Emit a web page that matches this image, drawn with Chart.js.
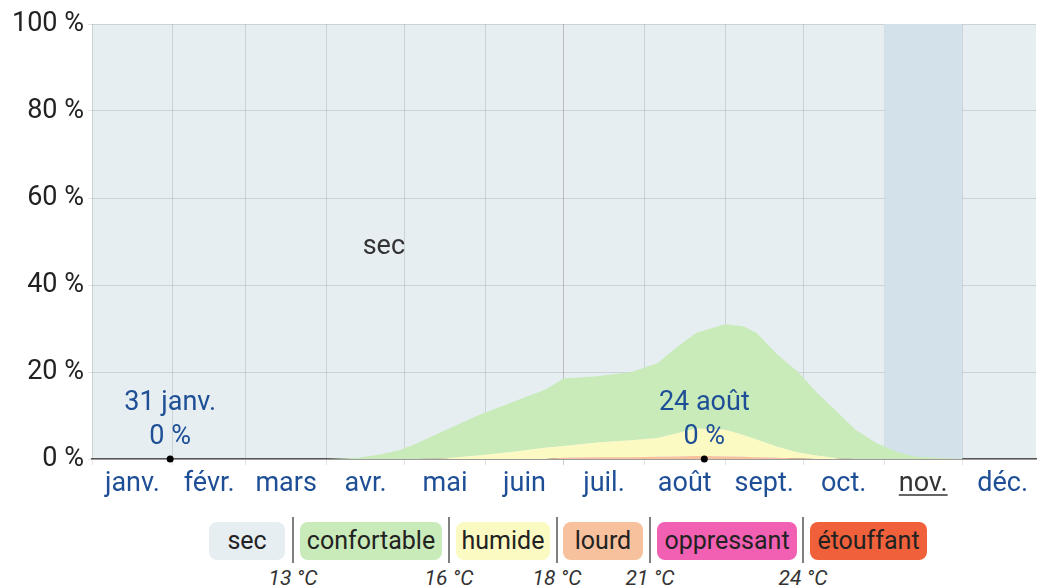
<!DOCTYPE html>
<html lang="fr">
<head>
<meta charset="utf-8">
<script src="https://cdn.jsdelivr.net/npm/chart.js@4.4.1/dist/chart.umd.min.js"></script>
<style>
  body { margin: 0; background: #fff; font-family: Roboto, sans-serif; }
  #wrap { position: relative; width: 1040px; height: 588px; overflow: hidden; }
  #chart { position: absolute; left: 0; top: 0; }
  .box { position: absolute; top: 522px; height: 38px; line-height: 38px; border-radius: 8px;
         text-align: center; font-size: 25px; color: #222; }
  .sep { position: absolute; top: 517px; height: 46px; width: 2px; background: #808080; }
  .temp { position: absolute; top: 565px; width: 80px; margin-left: -40px; line-height: 26px;
          text-align: center; font-size: 21px; font-style: italic; color: #333; }
</style>
</head>
<body>
<div id="wrap">
  <canvas id="chart" width="1040" height="505"></canvas>
  <div id="legend"></div>
</div>
<script>
// jour de l'année (0 = 1er janv.)
const days = [0, 31, 59, 90, 102, 110, 118, 125, 136, 148, 161, 174, 181, 194, 207, 217,
              225, 232, 243, 250, 255, 263, 271, 278, 286, 293, 301, 309, 316, 334, 365];

// % de jours par niveau de confort (le reste = sec)
const etouffant   = [0, 0, 0, 0, 0, 0, 0, 0, 0, 0, 0, 0, 0, 0, 0, 0,
                     0, 0, 0, 0, 0, 0, 0, 0, 0, 0, 0, 0, 0, 0, 0];
const oppressant  = [0, 0, 0, 0, 0, 0, 0, 0, 0, 0, 0, 0, 0, 0, 0, 0,
                     0, 0, 0, 0, 0, 0, 0, 0, 0, 0, 0, 0, 0, 0, 0];
const lourd       = [0, 0, 0, 0, 0, 0, 0, 0, 0, 0, 0, 0, 0.3, 0.4, 0.4, 0.5,
                     0.6, 0.7, 0.6, 0.5, 0.4, 0.3, 0.1, 0, 0, 0, 0, 0, 0, 0, 0];
const humide      = [0, 0, 0, 0, 0, 0, 0, 0, 0.2, 0.8, 1.6, 2.6, 2.7, 3.4, 3.9, 4.3,
                     5.4, 6.3, 6.1, 5.0, 4.1, 2.5, 1.4, 0.8, 0.2, 0, 0, 0, 0, 0, 0];
const confortable = [0, 0, 0, 0, 0.3, 1, 2, 3.7, 6.5, 9.2, 11.4, 13.4, 15.5, 15.2, 15.7, 17.2,
                     20, 22, 24.3, 25, 24.5, 21.2, 18.5, 14.6, 10.6, 6.7, 3.7, 1.6, 0.5, 0, 0];

const monthStarts = [0, 31, 59, 90, 120, 151, 181, 212, 243, 273, 304, 334];
const monthMids   = [15.5, 45, 74.5, 105, 135.5, 166, 196.5, 227.5, 258, 288.5, 319, 349.5];
const monthLabels = ['janv.', 'févr.', 'mars', 'avr.', 'mai', 'juin', 'juil.', 'août', 'sept.', 'oct.', 'nov.', 'déc.'];
const yTicks = [0, 20, 40, 60, 80, 100];

const markDays   = [30, 235];
const markDates  = ['31 janv.', '24 août'];
const markValues = [0, 0];

const legendNames  = ['sec', 'confortable', 'humide', 'lourd', 'oppressant', 'étouffant'];
const legendColors = ['#e6eef2', '#c9eab9', '#fcfac3', '#f7c19d', '#f260b3', '#f0603b'];
const tempLabels   = ['13 °C', '16 °C', '18 °C', '21 °C', '24 °C'];

const SEC_BG = '#e6eef1';
const NOV_BG = '#d3e1ea';
const BLUE = '#1e4f96';

// légende en HTML
const boxX = [[209, 285], [300, 442], [456, 550], [563, 643], [657, 797], [810, 927]];
const sepX = [293, 449, 557, 650, 803];
const legend = document.getElementById('legend');
legendNames.forEach((name, i) => {
  const d = document.createElement('div');
  d.className = 'box';
  d.style.left = boxX[i][0] + 'px';
  d.style.width = (boxX[i][1] - boxX[i][0]) + 'px';
  d.style.background = legendColors[i];
  d.textContent = name;
  legend.appendChild(d);
});
tempLabels.forEach((t, i) => {
  const s = document.createElement('div');
  s.className = 'sep';
  s.style.left = (sepX[i] - 1) + 'px';
  legend.appendChild(s);
  const l = document.createElement('div');
  l.className = 'temp';
  l.style.left = sepX[i] + 'px';
  l.textContent = t;
  legend.appendChild(l);
});

const pts = vals => days.map((d, i) => ({x: d, y: vals[i]}));

const decor = {
  id: 'decor',
  beforeDraw(chart) {
    const {ctx, chartArea: a} = chart;
    ctx.save();
    ctx.fillStyle = SEC_BG;
    ctx.fillRect(a.left, a.top, a.right - a.left, a.bottom - a.top);
    ctx.restore();
  },
  beforeDatasetsDraw(chart) {
    const {ctx, chartArea: a, scales: {x}} = chart;
    const x0 = x.getPixelForValue(monthStarts[10]);
    const x1 = x.getPixelForValue(monthStarts[11]);
    ctx.save();
    ctx.fillStyle = NOV_BG;
    ctx.fillRect(x0, a.top, x1 - x0, a.bottom - a.top);
    ctx.restore();
  },
  afterDraw(chart) {
    const {ctx, scales: {x, y}} = chart;
    ctx.save();
    ctx.font = '27px Roboto';
    ctx.textAlign = 'center';
    ctx.textBaseline = 'middle';
    ctx.fillStyle = '#333';
    ctx.fillText('sec', x.getPixelForValue(112), y.getPixelForValue(48.7));

    ctx.fillStyle = BLUE;
    markDays.forEach((d, i) => {
      const px = x.getPixelForValue(d);
      const py = y.getPixelForValue(markValues[i]);
      ctx.fillText(markDates[i], px, py - 56);
      ctx.fillText(markValues[i] + ' %', px, py - 22);
    });

    // mois courant souligné
    const nx = x.getPixelForValue(monthMids[10]);
    const w = ctx.measureText(monthLabels[10]).width;
    ctx.strokeStyle = '#333';
    ctx.lineWidth = 1.5;
    ctx.beginPath();
    ctx.moveTo(nx - w / 2, 495);
    ctx.lineTo(nx + w / 2, 495);
    ctx.stroke();
    ctx.restore();
  }
};

function draw() {
  const area = (label, vals, color, fill) => ({
    label, data: pts(vals), backgroundColor: color, borderWidth: 0,
    pointRadius: 0, fill, stack: 'a', tension: 0
  });

  new Chart(document.getElementById('chart'), {
    type: 'line',
    data: {
      datasets: [
        {
          label: 'marks',
          data: markDays.map((d, i) => ({x: d, y: markValues[i]})),
          showLine: false, pointRadius: 3.5, pointBackgroundColor: '#000',
          pointBorderWidth: 0, stack: 'marks', clip: false
        },
        area('étouffant', etouffant, legendColors[5], 'origin'),
        area('oppressant', oppressant, legendColors[4], 'stack'),
        area('lourd', lourd, legendColors[3], 'stack'),
        area('humide', humide, legendColors[2], 'stack'),
        area('confortable', confortable, legendColors[1], 'stack')
      ]
    },
    options: {
      responsive: false,
      animation: false,
      events: [],
      layout: {padding: {top: 24, right: 0, left: 0, bottom: 0}},
      plugins: {legend: {display: false}, tooltip: {enabled: false}},
      scales: {
        x: {
          type: 'linear', min: 0, max: 362.3, z: 1,
          afterBuildTicks: s => {
            s.ticks = monthStarts.concat(monthMids).sort((a, b) => a - b).map(v => ({value: v}));
          },
          afterFit: s => { s.height = 46; },
          ticks: {
            autoSkip: false, maxRotation: 0, minRotation: 0, padding: 3,
            font: {family: 'Roboto', size: 27},
            color: c => (c.tick && c.tick.value === monthMids[10]) ? '#333' : BLUE,
            callback: v => {
              const i = monthMids.indexOf(v);
              return i >= 0 ? monthLabels[i] : '';
            }
          },
          grid: {
            drawTicks: true, tickLength: 6,
            color: c => {
              if (!c.tick || !monthStarts.includes(c.tick.value)) return 'rgba(0,0,0,0)';
              return c.tick.value === 181 ? 'rgba(0,0,0,0.2)' : 'rgba(0,0,0,0.11)';
            }
          },
          border: {display: true, color: '#555', width: 1.5}
        },
        y: {
          stacked: true, min: 0, max: 100, z: 1,
          afterBuildTicks: s => { s.ticks = yTicks.map(v => ({value: v})); },
          afterFit: s => { s.width = 92; },
          ticks: {
            padding: 4, color: '#222',
            font: {family: 'Roboto', size: 27},
            callback: v => v + ' %'
          },
          grid: {color: 'rgba(0,0,0,0.11)', drawTicks: true, tickLength: 4},
          border: {display: false}
        }
      }
    },
    plugins: [decor]
  });
}

document.fonts.load('27px Roboto').then(draw, draw);
</script>
</body>
</html>
